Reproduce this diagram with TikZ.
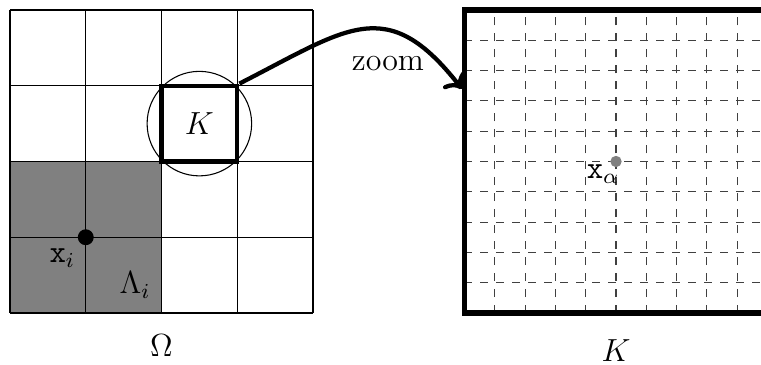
\documentclass[tikz,border=0pt]{standalone}
\usepackage{amsmath,amssymb}
\usepackage{tikz}
\usetikzlibrary{arrows.meta,positioning}

\begin{document}
\begin{tikzpicture}[font=\large, dot/.style={circle,fill=black,inner sep=0pt,minimum size=2.1mm},
  gdot/.style={circle,fill=gray,inner sep=0pt,minimum size=1.5mm},
  cell/.style={draw,line width=1.6pt,minimum size=1cm,inner sep=0pt},
  fine/.style={dashed,black!75}]
\useasboundingbox (-0.132,-0.686) rectangle (9.914,4.132);
% domain : mesh of Omega
\fill[gray] (0,0) rectangle (2,2);
\draw[thin] (0,0) grid (4,4);
\node[dot] (xi) at (1,1) {};
\node (xilab) at (0.69,0.72) {$\mathtt{x}_i$};
\node (lam) at (1.65,0.37) {$\Lambda_i$};
\node (omega) at (2,-0.43) {$\Omega$};
% the element K and its ball
\node[circle,draw,thin,minimum size=1.38cm] (ball) at (2.5,2.5) {};
\node[cell] (K) at (2.5,2.5) {$K$};
% zoomed element : fine grid
\foreach \k in {1,...,9} {
  \draw[fine] ({6+0.4*\k},0) -- ({6+0.4*\k},4);
  \draw[fine] (6,{0.4*\k}) -- (10,{0.4*\k});
}
\node[draw,line width=2pt,minimum size=4cm,inner sep=0pt] (Kbig) at (8,2) {};
\node[gdot] (xa) at (8,2) {};
\node (xalab) at (7.83,1.83) {$\mathtt{x}_\alpha$};
\node (klab) at (8,-0.5) {$K$};
\coordinate (zoomin) at ([yshift=0.96cm]Kbig.west);
\draw[->,line width=1.6pt] (K.north east) to[out=27,in=128,looseness=1.4] (zoomin);
\node (zoomlab) at (4.99,3.29) {zoom};
\end{tikzpicture}
\end{document}
